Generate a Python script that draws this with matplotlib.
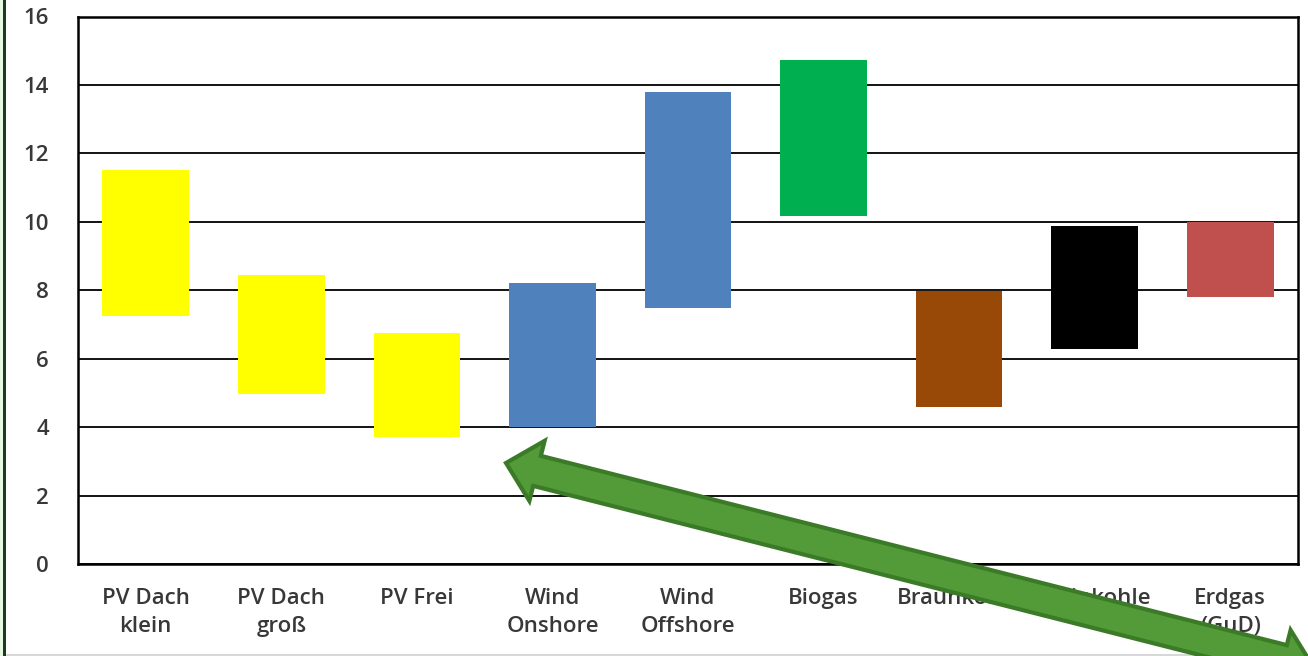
import matplotlib
matplotlib.use("Agg")
import matplotlib.pyplot as plt
import numpy as np
from matplotlib.patches import Polygon, Rectangle

categories = ["PV Dach\nklein", "PV Dach\ngroß", "PV Frei", "Wind\nOnshore", "Wind\nOffshore",
              "Biogas", "Braunkohle", "Steinkohle", "Erdgas\n(GuD)"]
low_values = [7.25, 4.97, 3.71, 4.0, 7.49, 10.18, 4.59, 6.29, 7.81]
high_values = [11.5, 8.45, 6.75, 8.22, 13.8, 14.72, 7.98, 9.87, 10.0]
bar_colors = ["#FFFF00", "#FFFF00", "#FFFF00", "#4F81BD", "#4F81BD",
              "#00B050", "#984807", "#000000", "#C0504D"]
y_ticks = [0, 2, 4, 6, 8, 10, 12, 14, 16]

plt.rcParams['font.family'] = ['Open Sans', 'DejaVu Sans']

W, H = 1308, 656
fig = plt.figure(figsize=(W / 100, H / 100), dpi=100)
ax = fig.add_axes([78 / W, 1 - 564 / H, (1298 - 78) / W, (564 - 16.5) / H])

x = np.arange(len(categories))
heights = [h - l for h, l in zip(high_values, low_values)]
ax.bar(x, heights, bottom=low_values, width=0.64, color=bar_colors, zorder=3)

ax.set_xlim(-0.5, len(categories) - 0.5)
ax.set_ylim(0, 16)
ax.set_yticks(y_ticks)
ax.set_xticks(x)
ax.set_xticklabels(categories, fontsize=16, fontweight='semibold', color="#383838",
                   linespacing=1.45)
ax.set_yticklabels([str(t) for t in y_ticks], fontsize=16, fontweight='semibold',
                   color="#383838")
ax.tick_params(axis='both', length=0)
ax.tick_params(axis='y', pad=21)
ax.tick_params(axis='x', pad=17)
ax.grid(axis='y', color="black", linewidth=1.3, zorder=1)
for s in ax.spines.values():
    s.set_color("black")
    s.set_linewidth(1.8)

# figure frame decorations
fig.patches.append(Rectangle((0, 0), 3 / W, 1, transform=fig.transFigure,
                             facecolor="#E6F9E0", edgecolor="none", zorder=10))
fig.patches.append(Rectangle((3 / W, 0), 3 / W, 1, transform=fig.transFigure,
                             facecolor="#1E3A1E", edgecolor="none", zorder=10))
fig.patches.append(Rectangle((6 / W, 0), 1 - 6 / W, 2 / H, transform=fig.transFigure,
                             facecolor="#D8D8D8", edgecolor="none", zorder=10))

# double-headed green arrow (pixel coords, y down)
A = np.array([506.0, 463.0])
B = np.array([1314.0, 668.0])
u = (B - A) / np.linalg.norm(B - A)
n = np.array([-u[1], u[0]])
L, Wh, S = 32.0, 31.0, 15.5
pts = [A, A + L * u + Wh * n, A + L * u + S * n, B - L * u + S * n, B - L * u + Wh * n, B,
       B - L * u - Wh * n, B - L * u - S * n, A + L * u - S * n, A + L * u - Wh * n]
pts = [(p[0] / W, 1 - p[1] / H) for p in pts]
fig.patches.append(Polygon(pts, closed=True, transform=fig.transFigure,
                           facecolor="#529B38", edgecolor="#3B7A27", linewidth=3.0,
                           joinstyle='miter', zorder=20))

fig.savefig("out.png", dpi=100, facecolor="white")
